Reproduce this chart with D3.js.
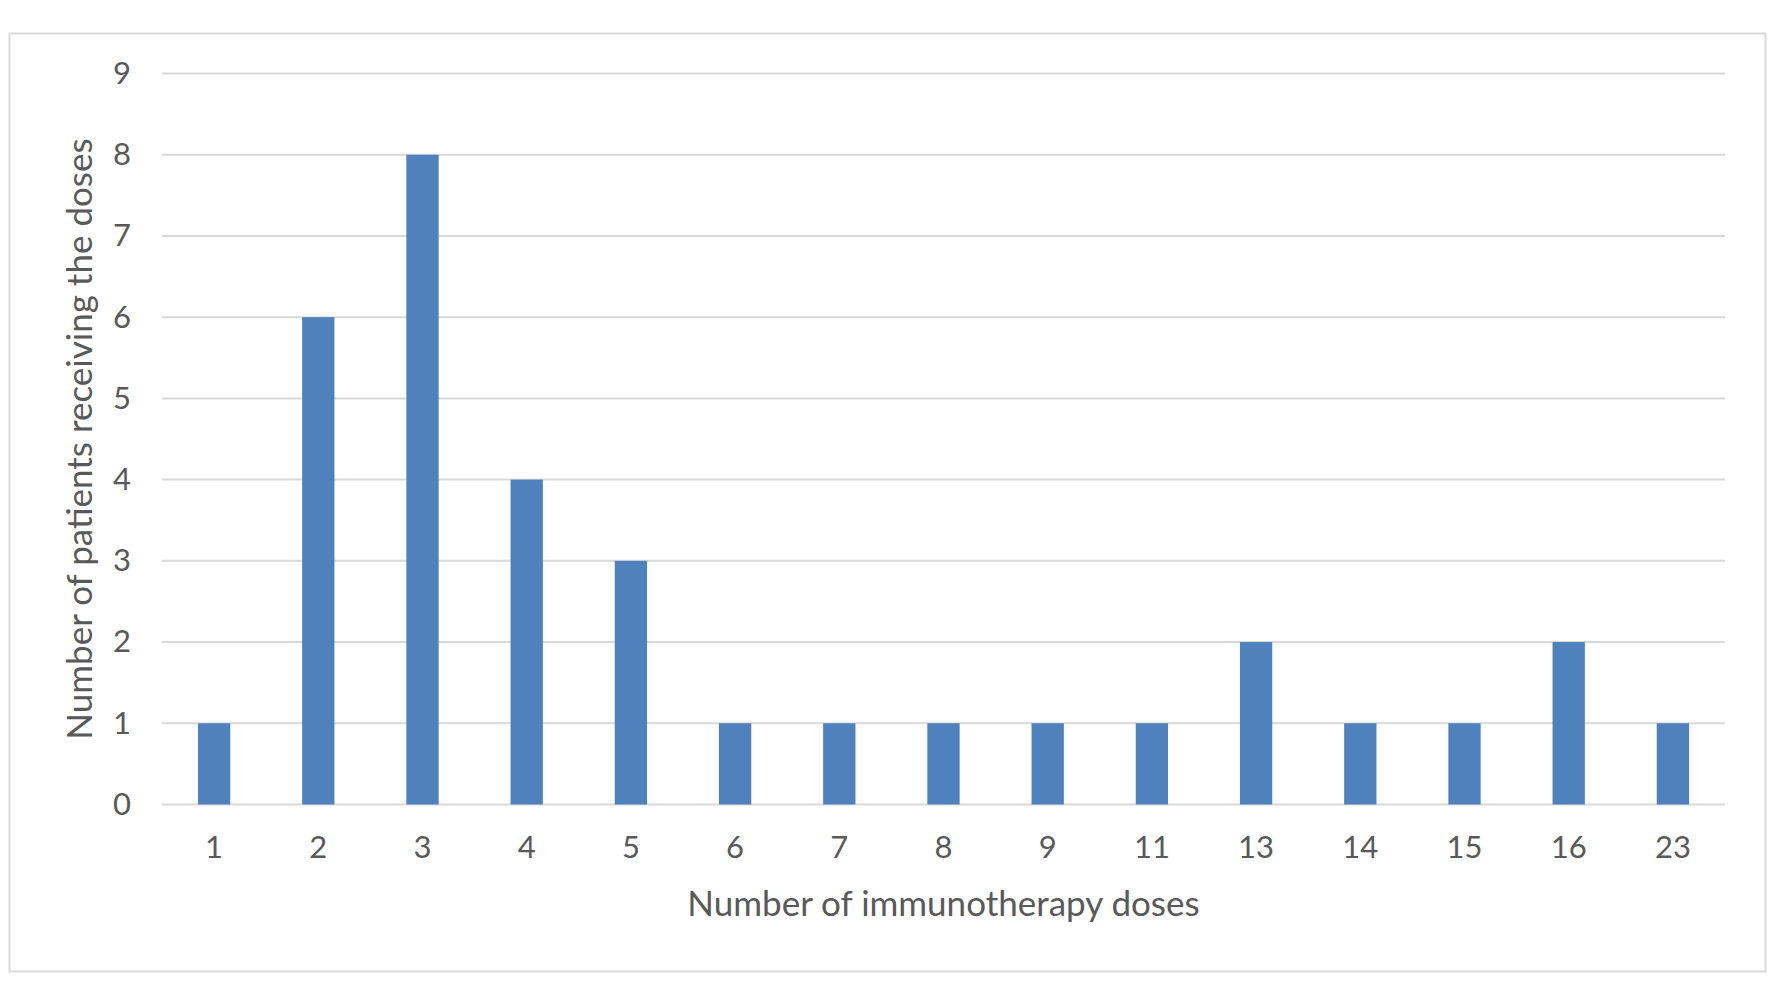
<!DOCTYPE html>
<html>
<head>
<meta charset="utf-8">
<script src="https://cdn.jsdelivr.net/npm/d3@7"></script>
<style>
  html, body { margin: 0; padding: 0; background: #fff; }
  svg { display: block; }
  text { font-family: Lato, "Open Sans", sans-serif; fill: #595959; }
</style>
</head>
<body>
<svg id="chart" width="1772" height="997"></svg>
<script>
const categories = ["1","2","3","4","5","6","7","8","9","11","13","14","15","16","23"];
const patients = [1, 6, 8, 4, 3, 1, 1, 1, 1, 1, 2, 1, 1, 2, 1];
const yTicks = [0,1,2,3,4,5,6,7,8,9];
const xTitle = "Number of immunotherapy doses";
const yTitle = "Number of patients receiving the doses";

const svg = d3.select("#chart");
const plot = { left: 162, right: 1725, top: 73.5, bottom: 804.5 };

svg.append("rect").attr("x", 9.5).attr("y", 33.5).attr("width", 1756).attr("height", 938)
  .attr("fill", "#fff").attr("stroke", "#d9d9d9").attr("stroke-width", 2);

const x = d3.scaleBand().domain(categories).range([plot.left, plot.right]).paddingInner(0.69).paddingOuter(0.345);
const y = d3.scaleLinear().domain([0, 9]).range([plot.bottom, plot.top]);

const tickSize = 31, titleSize = 35;

// gridlines
svg.append("g").selectAll("line").data(yTicks).join("line")
  .attr("x1", plot.left).attr("x2", plot.right)
  .attr("y1", d => y(d)).attr("y2", d => y(d))
  .attr("stroke", "#d9d9d9").attr("stroke-width", 2);

// bars
svg.append("g").selectAll("rect").data(categories).join("rect")
  .attr("x", d => x(d)).attr("width", x.bandwidth())
  .attr("y", (d, i) => y(patients[i])).attr("height", (d, i) => y(0) - y(patients[i]))
  .attr("fill", "#4f81bd");

// y axis
const yAxis = d3.axisLeft(y).tickValues(yTicks).tickSize(0).tickPadding(0).tickFormat(d3.format("d"));
const gy = svg.append("g").attr("transform", `translate(131,0)`).call(yAxis);
gy.select(".domain").remove();
gy.selectAll("text").attr("font-size", tickSize).attr("font-family", null).attr("fill", "#595959");

// x axis
const xAxis = d3.axisBottom(x).tickSize(0).tickPadding(0);
const gx = svg.append("g").attr("transform", `translate(0,${plot.bottom})`).call(xAxis);
gx.select(".domain").remove();
gx.selectAll("text").attr("font-size", tickSize).attr("font-family", null).attr("fill", "#595959")
  .attr("dy", null).attr("y", 53);

// titles
svg.append("text").attr("x", (plot.left + plot.right) / 2).attr("y", 916)
  .attr("text-anchor", "middle").attr("font-size", titleSize).text(xTitle);
svg.append("text").attr("transform", `translate(92,${(plot.top + plot.bottom) / 2}) rotate(-90)`)
  .attr("text-anchor", "middle").attr("font-size", titleSize).text(yTitle);
</script>
</body>
</html>
